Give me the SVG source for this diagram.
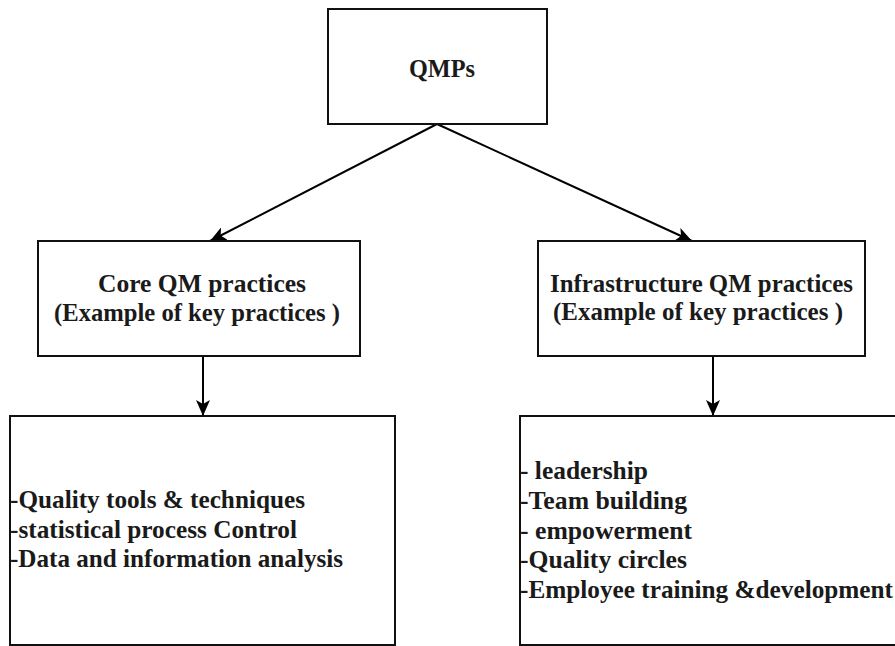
<svg xmlns="http://www.w3.org/2000/svg" width="895" height="646" viewBox="0 0 895 646">
  <defs>
    <marker id="arrow" viewBox="0 0 16 14" refX="16" refY="7" markerWidth="16" markerHeight="14" markerUnits="userSpaceOnUse" orient="auto">
      <path d="M0,0 L16,7 L0,14 L4,7 Z" fill="#000"/>
    </marker>
  </defs>
  <style>
    .box { fill: #fff; stroke: #111; stroke-width: 2; }
    .edge { fill: none; stroke: #000; stroke-width: 2; }
  </style>
  <rect width="895" height="646" fill="#fff"/>

  <g id="connectors">
    <line class="edge" x1="437" y1="124" x2="210" y2="241" marker-end="url(#arrow)"/>
    <line class="edge" x1="437" y1="124" x2="692" y2="241" marker-end="url(#arrow)"/>
    <line class="edge" x1="203" y1="356" x2="203" y2="416" marker-end="url(#arrow)"/>
    <line class="edge" x1="713" y1="356" x2="713" y2="416" marker-end="url(#arrow)"/>
  </g>

  <g font-family="'Liberation Serif', 'Times New Roman', serif" font-weight="bold" font-size="25" fill="#1a1a1a">
    <g id="qmps">
      <rect class="box" x="328" y="9" width="219" height="115"/>
      <text x="409" y="77" textLength="66" lengthAdjust="spacingAndGlyphs">QMPs</text>
    </g>

    <g id="core">
      <rect class="box" x="38" y="241" width="322" height="115"/>
      <text x="98" y="292" textLength="208" lengthAdjust="spacingAndGlyphs">Core QM practices</text>
      <text x="54" y="321" textLength="286" lengthAdjust="spacingAndGlyphs">(Example of key practices )</text>
    </g>

    <g id="infrastructure">
      <rect class="box" x="538" y="241" width="327" height="115"/>
      <text x="550" y="292" textLength="303" lengthAdjust="spacingAndGlyphs">Infrastructure QM practices</text>
      <text x="553" y="320" textLength="290" lengthAdjust="spacingAndGlyphs">(Example of key practices )</text>
    </g>

    <g id="core-examples">
      <rect class="box" x="10" y="416" width="385" height="229"/>
      <text x="10" y="508" textLength="295" lengthAdjust="spacingAndGlyphs">-Quality tools &amp; techniques</text>
      <text x="10" y="538" textLength="287" lengthAdjust="spacingAndGlyphs">-statistical process Control</text>
      <text x="10" y="567" textLength="333" lengthAdjust="spacingAndGlyphs">-Data and information analysis</text>
    </g>

    <g id="infrastructure-examples">
      <rect class="box" x="520" y="416" width="390" height="229"/>
      <text x="520" y="479" textLength="128" lengthAdjust="spacingAndGlyphs">- leadership</text>
      <text x="520" y="509" textLength="167" lengthAdjust="spacingAndGlyphs">-Team building</text>
      <text x="520" y="539" textLength="172" lengthAdjust="spacingAndGlyphs">- empowerment</text>
      <text x="520" y="568" textLength="167" lengthAdjust="spacingAndGlyphs">-Quality circles</text>
      <text x="520" y="598" textLength="373" lengthAdjust="spacingAndGlyphs">-Employee training &amp;development</text>
    </g>
  </g>
</svg>
